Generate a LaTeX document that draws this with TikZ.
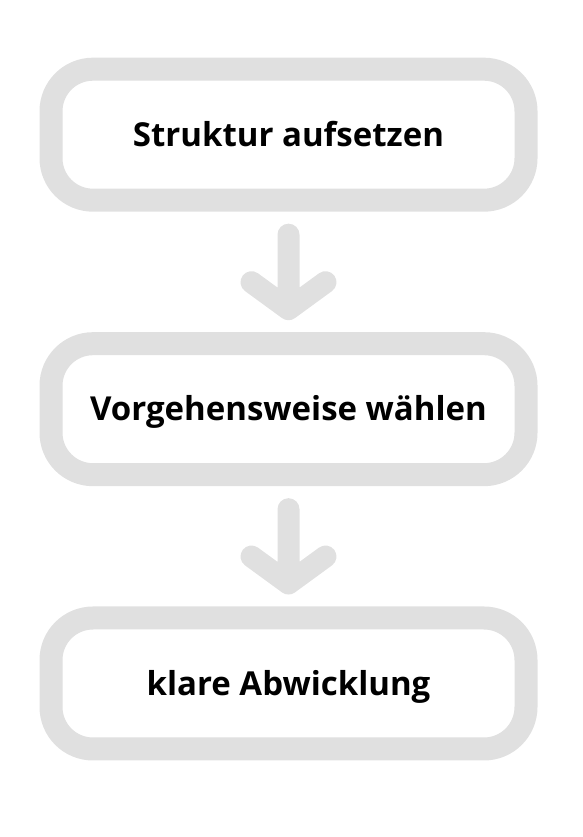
\documentclass[tikz,border=0pt]{standalone}
\usepackage{fontspec}
\setmainfont{Open Sans}
\usetikzlibrary{calc}
\definecolor{boxgray}{HTML}{E0E0E0}
\tikzset{
  stepbox/.style={draw=boxgray, line width=23pt, fill=white, rounded corners=42pt,
    minimum width=475pt, minimum height=131pt, inner sep=0pt,
    text height=23.4pt, text depth=0pt,
    font=\fontsize{33pt}{38pt}\selectfont\bfseries},
  arr/.style={draw=boxgray, line width=22pt, line cap=round, line join=round}
}
\begin{document}
\begin{tikzpicture}[x=1pt,y=1pt]
\useasboundingbox (0,0) rectangle (582,837);
\node[stepbox] (b1) at (288.5,837-134.7) {Struktur aufsetzen};
\node[stepbox] (b2) at (288.5,837-409.2) {Vorgehensweise wählen};
\node[stepbox] (b3) at (288.5,837-683.5) {klare Abwicklung};
\draw[arr] ([yshift=-23pt]b1.south) -- ([yshift=23pt]b2.north) coordinate (t1)
  ++(-37pt,27pt) -- (t1) -- ++(37pt,27pt);
\draw[arr] ([yshift=-23pt]b2.south) -- ([yshift=23pt]b3.north) coordinate (t2)
  ++(-37pt,27pt) -- (t2) -- ++(37pt,27pt);
\end{tikzpicture}
\end{document}
